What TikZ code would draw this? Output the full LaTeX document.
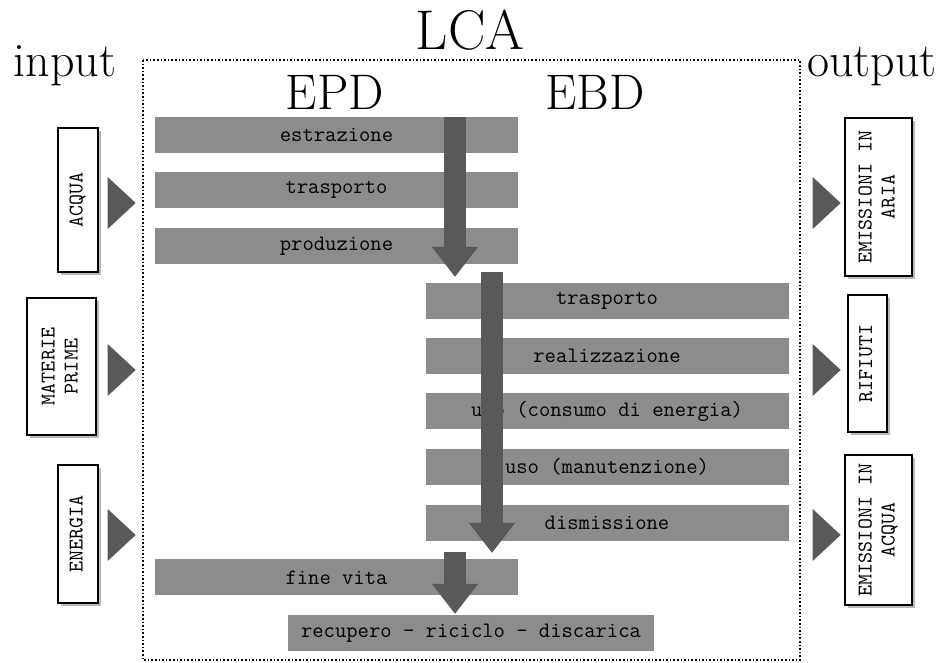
\documentclass[tikz,border=0pt]{standalone}
\usepackage{tikz}
\usetikzlibrary{arrows.meta,shapes.geometric,shadows}

\newcommand{\vtxt}[1]{\rotatebox{90}{\begin{tabular}{@{}c@{}}#1\end{tabular}}}

\begin{document}
\begin{tikzpicture}[x=0.5pt,y=-0.5pt,
  bar/.style={fill=black!45,minimum width=181.5pt,minimum height=18pt,inner sep=0pt,
    font=\ttfamily\fontsize{11}{12}\selectfont},
  box/.style={draw,fill=white,thick,inner sep=1pt,
    font=\ttfamily\fontsize{10.5}{11.5}\selectfont,
    drop shadow={shadow xshift=1.5pt,shadow yshift=-1.5pt,fill=black!55}},
  tri/.style={isosceles triangle,isosceles triangle stretches,fill=black!65,
    minimum width=26pt,minimum height=14pt,inner sep=0pt},
  flow/.style={line width=11pt,draw=black!65,-{Triangle[width=22pt,length=15pt]}},
  big/.style={anchor=base,font=\fontsize{24}{28}\selectfont}]
  \useasboundingbox (0,0) rectangle (944,663);

  % frame and titles
  \draw[densely dotted,thick] (143,60) rectangle (800,660);
  \node[big,font=\fontsize{28}{32}\selectfont] (lca) at (470,50) {LCA};
  \node[big] (in)  at (65,77)  {input};
  \node[big] (out) at (872,77) {output};
  \node[big,font=\fontsize{25}{30}\selectfont] (epd) at (335,110) {EPD};
  \node[big,font=\fontsize{25}{30}\selectfont] (ebd) at (595,110) {EBD};

  % phases
  \node[bar] (estr) at (336.5,135)   {estrazione};
  \node[bar] (tra1) at (336.5,190)   {trasporto};
  \node[bar] (prod) at (336.5,246)   {produzione};
  \node[bar] (tra2) at (607,301)     {trasporto};
  \node[bar] (real) at (607,356)     {realizzazione};
  \node[bar] (cons) at (607,411.5)   {uso (consumo di energia)};
  \node[bar] (manu) at (607,467)     {uso (manutenzione)};
  \node[bar] (dism) at (607,523)     {dismissione};
  \node[bar] (fine) at (336.5,577.5) {fine vita};
  \node[bar,minimum width=183pt] (recu) at (471,633.5) {recupero - riciclo - discarica};

  % flow arrows
  \coordinate (f1) at (455,117); \coordinate (g1) at (455,277);
  \coordinate (f2) at (492,272); \coordinate (g2) at (492,553);
  \coordinate (f3) at (455,552); \coordinate (g3) at (455,614);
  \draw[flow] (f1) -- (g1);
  \draw[flow] (f2) -- (g2);
  \draw[flow] (f3) -- (g3);

  % input
  \node[box,minimum width=20pt,minimum height=72pt]   (acq) at (78,200)    {\vtxt{ACQUA}};
  \node[box,minimum width=34.5pt,minimum height=68.5pt] (mat) at (61.5,366.5) {\vtxt{MATERIE\\PRIME}};
  \node[box,minimum width=20pt,minimum height=69pt]   (ene) at (78,534)    {\vtxt{ENERGIA}};
  \node[tri] (ti1) at (119,203) {};
  \node[tri] (ti2) at (119,370) {};
  \node[tri] (ti3) at (119,535) {};

  % output
  \node[box,minimum width=33.5pt,minimum height=79pt]   (ari) at (878.5,197)  {\vtxt{EMISSIONI IN\\ARIA}};
  \node[box,minimum width=19.5pt,minimum height=68.5pt] (rif) at (867.5,363.5) {\vtxt{RIFIUTI}};
  \node[box,minimum width=33.5pt,minimum height=75pt]   (aqu) at (878.5,530)  {\vtxt{EMISSIONI IN\\ACQUA}};
  \node[tri] (to1) at (824,203) {};
  \node[tri] (to2) at (824,370) {};
  \node[tri] (to3) at (824,535) {};
\end{tikzpicture}
\end{document}
